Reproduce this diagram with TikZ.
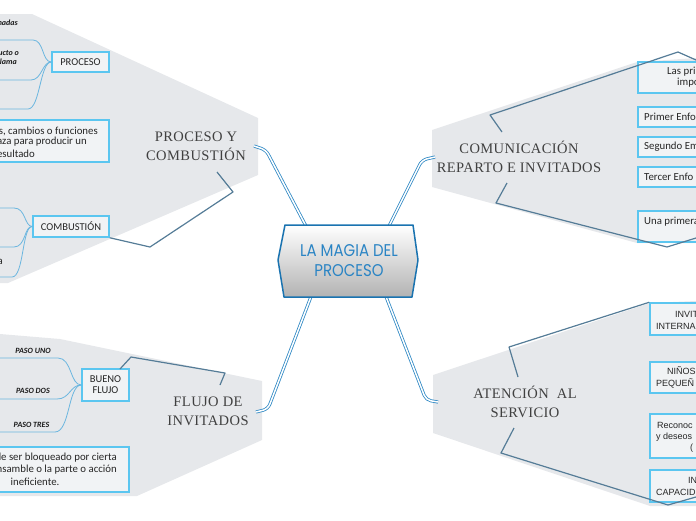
\documentclass[tikz,border=0pt]{standalone}
\usepackage{fontspec}
\setmainfont{Carlito}
\newfontfamily\titlefont[LetterSpace=3]{Liberation Serif}
\newfontfamily\centerfont{Poppins}
\newfontfamily\arialfont{Liberation Sans}
\definecolor{regiongray}{HTML}{E6E8EB}
\definecolor{boxline}{HTML}{5BC6F0}
\definecolor{boxfill}{HTML}{F1F3F5}
\definecolor{bracketcol}{HTML}{557C97}
\definecolor{leafcol}{HTML}{6BB6DF}
\definecolor{conncol}{HTML}{2E88C4}
\definecolor{centerblue}{HTML}{2A84C4}
\definecolor{centerline}{HTML}{1A73B0}
\definecolor{titlegray}{HTML}{404040}
\tikzset{
  region/.style={fill=regiongray},
  boxnode/.style={draw=boxline, fill=boxfill, line width=1.5pt, inner sep=0pt, align=center, font=\fontsize{10.5}{12}\selectfont, text=black!85},
  plaintext/.style={inner sep=0pt, font=\fontsize{10.8}{12}\selectfont, text=black!85},
  arialtext/.style={inner sep=0pt, font=\arialfont\fontsize{9}{11}\selectfont, text=black!85},
  leaftext/.style={inner sep=0pt, font=\fontsize{8}{10}\selectfont\bfseries\itshape, text=black!90},
  titlenode/.style={align=center, inner sep=0pt, font=\titlefont\fontsize{14.5}{19}\selectfont, text=titlegray},
  dbl/.style={draw=conncol, double=white, line width=0.8pt, double distance=1.5pt, rounded corners=5pt},
  leaf/.style={draw=leafcol, line width=0.8pt},
  bracketline/.style={draw=bracketcol, line width=1.2pt, line join=round}
}
\begin{document}
\begin{tikzpicture}[x=1pt,y=-1pt]
\useasboundingbox (0,0) rectangle (696,520);
\clip (0,0) rectangle (696,520);

% grey regions
\fill[region] (0,14) -- (32,14) -- (258,118) -- (258,175) -- (8,283) -- (0,283) -- cycle;
\fill[region] (0,334) -- (60,339) -- (262,381) -- (262,440) -- (137,496) -- (0,496) -- cycle;
\fill[region] (432,130) -- (637,62) -- (696,58) -- (696,243) -- (637,243) -- (432,187) -- cycle;
\fill[region] (433,375) -- (650,303) -- (696,301) -- (696,506) -- (650,506) -- (433,433) -- cycle;

% titles
\node[titlenode] (t1) at (196,146) {PROCESO Y\\COMBUSTIÓN};
\node[titlenode] (t2) at (208,411) {FLUJO DE\\INVITADOS};
\node[titlenode] (t3) at (519,157) {COMUNICACIÓN\\REPARTO E INVITADOS};
\node[titlenode] (t4) at (525,402) {ATENCIÓN\ \ AL\\SERVICIO};

% ---------- PROCESO Y COMBUSTION ----------
\node[boxnode, minimum width=57pt, minimum height=20pt] (proc) at (80.5,62) {PROCESO};
\node[leaftext, anchor=east] (l1) at (18,23) {madas};
\node[leaftext, anchor=east] (l2a) at (19,53) {ucto o};
\node[leaftext, anchor=east] (l2b) at (17,62) {lama};
\draw[leaf] (proc.west) .. controls (42,62) and (44,40) .. (33,40) -- (0,40);
\draw[leaf] (proc.west) .. controls (42,62) and (42,80) .. (31,80) -- (0,80);
\draw[leaf] (proc.west) .. controls (40,62) and (40,109) .. (28,109) -- (0,109);

\node[boxnode, minimum width=139pt, minimum height=42pt] (desc1) at (39.5,141) {};
\node[plaintext, anchor=east] (d1a) at (98,131) {s, cambios o funciones};
\node[plaintext, anchor=east] (d1b) at (87,142) {aza para producir un};
\node[plaintext, anchor=east] (d1c) at (35,154) {esultado};

\node[boxnode, minimum width=76pt, minimum height=21pt] (comb) at (71,226.5) {COMBUSTIÓN};
\node[plaintext, anchor=east] (frag1) at (3,262) {a};
\draw[leaf] (comb.west) .. controls (24,226) and (26,208) .. (14,208) -- (0,208);
\draw[leaf] (comb.west) .. controls (24,226) and (26,247) .. (14,247) -- (0,247);
\draw[leaf] (comb.west) .. controls (22,226) and (24,277) .. (12,277) -- (0,277);

\draw[bracketline] (217,172) -- (233,192) -- (150,247) -- (comb.south east);

% ---------- FLUJO DE INVITADOS ----------
\node[boxnode, minimum width=47pt, minimum height=32pt] (flujo) at (105.5,385) {BUENO\\[-1pt]FLUJO};
\node[leaftext] (p1) at (33,351) {PASO UNO};
\node[leaftext] (p2) at (33,391) {PASO DOS};
\node[leaftext] (p3) at (31.5,425) {PASO TRES};
\draw[leaf] (flujo.west) .. controls (70,385) and (72,358) .. (58,358) -- (0,358);
\draw[leaf] (flujo.west) .. controls (70,385) and (70,399) .. (57,399) -- (0,399);
\draw[leaf] (flujo.west) .. controls (68,385) and (70,432) .. (55,432) -- (0,432);
\node[boxnode, minimum width=159pt, minimum height=45pt] (desc2) at (49.5,469.5) {};
\node[plaintext, anchor=east] (d2a) at (117,458) {de ser bloqueado por cierta};
\node[plaintext, anchor=east] (d2b) at (117,470) {nsamble o la parte o acción};
\node[plaintext] (d2c) at (35,482) {ineficiente.};
\coordinate (fb) at (120,369);
\draw[bracketline] (220,385) -- (225,373) -- (131,357) -- (fb);

% ---------- COMUNICACION ----------
\node[boxnode, minimum width=80pt, minimum height=31pt] (r1) at (678,77.5) {};
\node[boxnode, minimum width=80pt, minimum height=20pt] (r2) at (678,117) {};
\node[boxnode, minimum width=80pt, minimum height=20pt] (r3) at (678,147) {};
\node[boxnode, minimum width=80pt, minimum height=20pt] (r4) at (678,177) {};
\node[boxnode, minimum width=80pt, minimum height=31pt] (r5) at (678,226.5) {};
\node[plaintext, anchor=west] (r1a) at (667,72) {Las pri};
\node[plaintext, anchor=west] (r1b) at (677,83) {impo};
\node[plaintext, anchor=west] (r2a) at (644,117) {Primer Enfo};
\node[plaintext, anchor=west] (r3a) at (644,147) {Segundo Em};
\node[plaintext, anchor=west] (r4a) at (644,177) {Tercer Enfo};
\node[plaintext, anchor=west] (r5a) at (644,222) {Una primera};
\coordinate (cb1) at (696,60);
\coordinate (cb2) at (696,238);
\draw[bracketline] (502,132) -- (490,115) -- (678,52) -- (cb1);
\draw[bracketline] (507,183) -- (496,203) -- (667,247) -- (cb2);

% ---------- ATENCION AL SERVICIO ----------
\node[boxnode, minimum width=70pt, minimum height=32pt] (s1) at (685,319) {};
\node[boxnode, minimum width=70pt, minimum height=31pt] (s2) at (685,377.5) {};
\node[boxnode, minimum width=70pt, minimum height=44pt] (s3) at (685,436) {};
\node[boxnode, minimum width=70pt, minimum height=32pt] (s4) at (685,486) {};
\node[arialtext, anchor=west] (s1a) at (675,314) {INVIT};
\node[arialtext, anchor=west] (s1b) at (656,326) {INTERNA};
\node[arialtext, anchor=west] (s2a) at (667,371) {NIÑOS};
\node[arialtext, anchor=west] (s2b) at (656,383) {PEQUEÑ};
\node[arialtext, anchor=west] (s3a) at (657,425) {Reconoc};
\node[arialtext, anchor=west] (s3b) at (656,437) {y deseos};
\node[arialtext, anchor=west] (s3c) at (690,448) {(};
\node[arialtext, anchor=west] (s4a) at (688,480) {IN};
\node[arialtext, anchor=west] (s4b) at (656,492) {CAPACID};
\coordinate (ab2) at (696,497);
\draw[bracketline] (518,377) -- (509,347) -- (s1.north west);
\draw[bracketline] (514,428) -- (501,453) -- (668,505) -- (ab2);

% ---------- central connectors ----------
\coordinate (c-tl) at (307,228);
\coordinate (c-tr) at (388,228);
\coordinate (c-bl) at (312,294);
\coordinate (c-br) at (385,294);
\coordinate (e1) at (254,146);
\coordinate (e2) at (435,157);
\coordinate (e3) at (256,412);
\coordinate (e4) at (438,402);
\draw[dbl] (c-tl) -- (266,150) -- (e1);
\draw[dbl] (c-tr) -- (422,160) -- (e2);
\draw[dbl] (c-bl) -- (268,409) -- (e3);
\draw[dbl] (c-br) -- (426,400) -- (e4);

% central node
\shade[top color=white, bottom color=black!30, draw=centerline, line width=1.5pt, line join=round]
  (285,225) -- (413,225) -- (418,260) -- (412,297) -- (284,297) -- (278,260) -- cycle;
\node[align=center, inner sep=0pt, text=centerblue, font=\centerfont\fontsize{17}{20}\selectfont] (center) at (349,261)
  {\scalebox{0.88}[1]{LA MAGIA DEL}\\\scalebox{0.88}[1]{PROCESO}};
\end{tikzpicture}
\end{document}
